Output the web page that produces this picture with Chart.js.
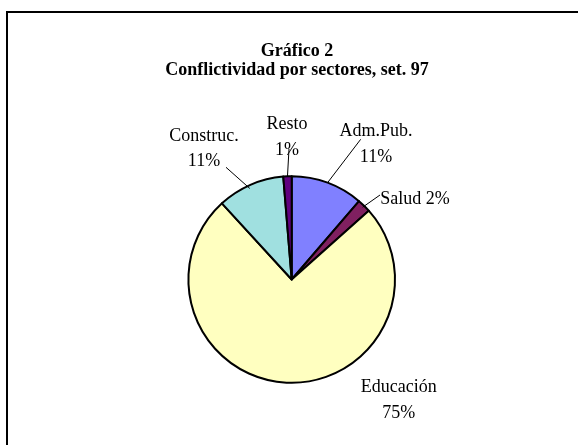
<!DOCTYPE html>
<html>
<head>
<meta charset="utf-8">
<script src="https://cdn.jsdelivr.net/npm/chart.js@4"></script>
<style>
  html, body { margin: 0; padding: 0; background: #ffffff; }
  #wrap { position: relative; width: 578px; height: 445px; }
</style>
</head>
<body>
<div id="wrap"><canvas id="c" width="578" height="445"></canvas></div>
<script>
// ---- data ----
const titleLines = ['Gráfico 2', 'Conflictividad por sectores, set. 97'];
const categories = ['Adm.Pub.', 'Salud', 'Educación', 'Construc.', 'Resto'];
const shares = [11.3, 2.1, 74.8, 10.5, 1.3];
const percentLabels = ['11%', '2%', '75%', '11%', '1%'];
const sliceColors = ['#8080FF', '#802060', '#FFFFC0', '#A0E0E0', '#600080'];

// ---- label layout (relative to pie centre), kept apart from data ----
const labelLayout = [
  { dx: 84.3,  dy: -143.5, inline: false, lead: { dx: 69,   dy: -140.2, frac: 0.5, rf: 1.0 } },
  { dx: 88.6,  dy: -75.5,  inline: true,  align: 'left', lead: { dx: 88.3, dy: -84.5, frac: 0.5, rf: 0.98 } },
  { dx: 107,   dy: 112.5,  inline: false, lead: null },
  { dx: -87.7, dy: -138.8, inline: false, lead: { dx: -65.7, dy: -112.2, frac: 0.47, rf: 0.97 } },
  { dx: -4.7,  dy: -150.5, inline: false, lead: { dx: -2.7, dy: -130.5, frac: 0.5, rf: 1.0 } }
];

const FONT = '"Liberation Serif", "Times New Roman", serif';

const decor = {
  id: 'decor',
  beforeDraw(chart) {
    const ctx = chart.ctx;
    ctx.save();
    ctx.fillStyle = '#ffffff';
    ctx.fillRect(0, 0, chart.width, chart.height);
    ctx.fillStyle = '#000000';
    ctx.fillRect(6, 11, chart.width - 6, 2);
    ctx.fillRect(6, 11, 2, chart.height - 11);
    ctx.restore();
  },
  afterDraw(chart) {
    const ctx = chart.ctx;
    ctx.save();
    // title
    ctx.fillStyle = '#000000';
    ctx.textAlign = 'center';
    ctx.textBaseline = 'alphabetic';
    ctx.font = 'bold 18px ' + FONT;
    ctx.fillText(titleLines[0], 297, 56);
    ctx.fillText(titleLines[1], 297, 75);

    const meta = chart.getDatasetMeta(0);
    ctx.font = '18px ' + FONT;
    meta.data.forEach((arc, i) => {
      const p = arc.getProps(['x', 'y', 'startAngle', 'endAngle', 'outerRadius'], true);
      const lay = labelLayout[i];
      // leader line
      if (lay.lead) {
        const a = p.startAngle + lay.lead.frac * (p.endAngle - p.startAngle);
        const r = p.outerRadius * lay.lead.rf;
        ctx.beginPath();
        ctx.strokeStyle = '#000000';
        ctx.lineWidth = 1;
        ctx.moveTo(p.x + lay.lead.dx, p.y + lay.lead.dy);
        ctx.lineTo(p.x + Math.cos(a) * r, p.y + Math.sin(a) * r);
        ctx.stroke();
      }
      ctx.fillStyle = '#000000';
      if (lay.inline) {
        ctx.textAlign = lay.align || 'center';
        ctx.fillText(categories[i] + ' ' + percentLabels[i], p.x + lay.dx, p.y + lay.dy);
      } else {
        ctx.textAlign = 'center';
        ctx.fillText(categories[i], p.x + lay.dx, p.y + lay.dy);
        ctx.fillText(percentLabels[i], p.x + lay.dx, p.y + lay.dy + 25.5);
      }
    });
    ctx.restore();
  }
};

new Chart(document.getElementById('c'), {
  type: 'pie',
  data: {
    labels: categories,
    datasets: [{
      data: shares,
      backgroundColor: sliceColors,
      borderColor: '#000000',
      borderWidth: 2,
      borderJoinStyle: 'round'
    }]
  },
  options: {
    responsive: false,
    devicePixelRatio: 1,
    animation: false,
    radius: 103.3,
    layout: { padding: { left: 5.4, right: 0, top: 114, bottom: 0 } },
    plugins: {
      legend: { display: false },
      title: { display: false },
      tooltip: { enabled: false }
    }
  },
  plugins: [decor]
});
</script>
</body>
</html>
